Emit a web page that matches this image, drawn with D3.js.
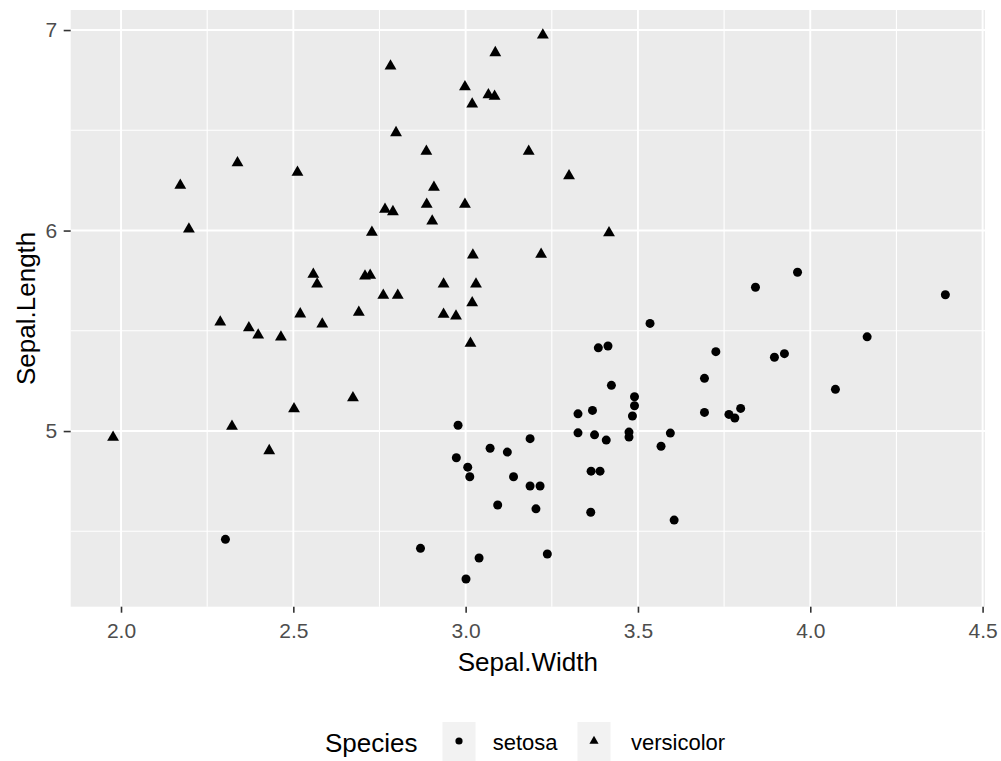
<!DOCTYPE html>
<html>
<head>
<meta charset="utf-8">
<script src="https://cdn.jsdelivr.net/npm/d3@7"></script>
<style>
  body { margin: 0; background: #ffffff; }
  svg { display: block; font-family: "Liberation Sans", Arial, sans-serif; }
</style>
</head>
<body>
<div id="chart"></div>
<script>
// Sepal measurements (slightly jittered) for the two species
const setosaWidth = [3.385, 3.413, 3.423, 3.490, 3.490, 3.484, 3.326, 3.368, 2.978, 3.326,
  3.374, 3.408, 3.474, 3.474, 3.187, 3.071, 3.121, 2.973, 3.006, 3.012,
  3.139, 3.187, 3.216, 3.364, 3.390, 3.093, 3.204, 3.363, 2.869, 3.039,
  3.237, 3.001, 2.303, 3.535, 3.841, 3.963, 4.392, 4.165, 3.726, 3.896,
  3.925, 3.693, 4.073, 3.693, 3.764, 3.781, 3.798, 3.594, 3.567, 3.605];
const setosaLength = [5.415, 5.424, 5.228, 5.171, 5.126, 5.075, 5.086, 5.103, 5.029, 4.991,
  4.981, 4.955, 4.995, 4.970, 4.962, 4.914, 4.895, 4.867, 4.820, 4.772,
  4.772, 4.726, 4.726, 4.800, 4.800, 4.631, 4.612, 4.595, 4.415, 4.367,
  4.387, 4.262, 4.460, 5.537, 5.717, 5.792, 5.680, 5.470, 5.396, 5.368,
  5.386, 5.263, 5.208, 5.093, 5.083, 5.065, 5.113, 4.990, 4.924, 4.556];

const versicolorWidth = [3.224, 3.086, 2.782, 2.998, 3.066, 3.084, 3.019, 2.798, 2.338, 2.172,
  2.512, 2.197, 2.766, 2.789, 2.728, 2.886, 3.183, 3.300, 2.908, 2.887,
  2.998, 2.903, 3.416, 3.021, 3.219, 2.936, 3.030, 3.019, 2.936, 2.972,
  3.014, 2.558, 2.569, 2.708, 2.723, 2.761, 2.803, 2.520, 2.690, 2.584,
  2.288, 2.371, 2.398, 2.464, 2.673, 2.502, 2.322, 1.977, 2.430];
const versicolorLength = [6.975, 6.887, 6.820, 6.717, 6.677, 6.669, 6.631, 6.488, 6.338, 6.225,
  6.290, 6.007, 6.106, 6.094, 5.991, 6.395, 6.395, 6.273, 6.215, 6.131,
  6.131, 6.047, 5.989, 5.878, 5.881, 5.733, 5.733, 5.640, 5.582, 5.574,
  5.437, 5.782, 5.733, 5.773, 5.777, 5.677, 5.677, 5.584, 5.592, 5.534,
  5.544, 5.515, 5.479, 5.469, 5.166, 5.111, 5.023, 4.969, 4.902];

const speciesNames = ["setosa", "versicolor"];
const xTicks = [2.0, 2.5, 3.0, 3.5, 4.0, 4.5];
const xMinorTicks = [2.25, 2.75, 3.25, 3.75, 4.25];
const yTicks = [5, 6, 7];
const yMinorTicks = [4.5, 5.5, 6.5];
const xLimits = [1.854, 4.507];
const yLimits = [4.124, 7.1];

const W = 1001, H = 761;
const panel = { left: 70.7, right: 985, top: 10, bottom: 606.7 };

const svg = d3.select("#chart")
  .append("svg")
  .attr("width", W)
  .attr("height", H);

const x = d3.scaleLinear().domain(xLimits).range([panel.left, panel.right]);
const y = d3.scaleLinear().domain(yLimits).range([panel.bottom, panel.top]);

// panel background
svg.append("rect")
  .attr("x", panel.left)
  .attr("y", panel.top)
  .attr("width", panel.right - panel.left)
  .attr("height", panel.bottom - panel.top)
  .attr("fill", "#ebebeb");

// grid lines, minor first then major
const grid = svg.append("g");
grid.selectAll(".vminor").data(xMinorTicks).enter().append("line")
  .attr("x1", d => x(d)).attr("x2", d => x(d))
  .attr("y1", panel.top).attr("y2", panel.bottom)
  .attr("stroke", "#ffffff").attr("stroke-width", 1.1);
grid.selectAll(".hminor").data(yMinorTicks).enter().append("line")
  .attr("x1", panel.left).attr("x2", panel.right)
  .attr("y1", d => y(d)).attr("y2", d => y(d))
  .attr("stroke", "#ffffff").attr("stroke-width", 1.1);
grid.selectAll(".vmajor").data(xTicks).enter().append("line")
  .attr("x1", d => x(d)).attr("x2", d => x(d))
  .attr("y1", panel.top).attr("y2", panel.bottom)
  .attr("stroke", "#ffffff").attr("stroke-width", 1.9);
grid.selectAll(".hmajor").data(yTicks).enter().append("line")
  .attr("x1", panel.left).attr("x2", panel.right)
  .attr("y1", d => y(d)).attr("y2", d => y(d))
  .attr("stroke", "#ffffff").attr("stroke-width", 1.9);

// filled triangle centred on its centroid (same proportions as R's pch 17)
function trianglePath(cx, cy, R) {
  const r = 1.555 * R, xc = 1.347 * R, yc = 0.778 * R;
  const p = d3.path();
  p.moveTo(cx, cy - r);
  p.lineTo(cx + xc, cy + yc);
  p.lineTo(cx - xc, cy + yc);
  p.closePath();
  return p.toString();
}

const setosa = setosaWidth.map((w, i) => ({ w: w, l: setosaLength[i] }));
const versicolor = versicolorWidth.map((w, i) => ({ w: w, l: versicolorLength[i] }));

// points
svg.append("g").selectAll("circle")
  .data(setosa)
  .enter()
  .append("circle")
  .attr("cx", d => x(d.w))
  .attr("cy", d => y(d.l))
  .attr("r", 4.5)
  .attr("fill", "#000000");

svg.append("g").selectAll("path")
  .data(versicolor)
  .enter()
  .append("path")
  .attr("d", d => trianglePath(x(d.w), y(d.l), 4.4))
  .attr("fill", "#000000");

// axes
const xAxis = svg.append("g")
  .attr("transform", `translate(0,${panel.bottom})`)
  .call(d3.axisBottom(x).tickValues(xTicks).tickFormat(d3.format(".1f")).tickSize(6).tickPadding(10));
const yAxis = svg.append("g")
  .attr("transform", `translate(${panel.left},0)`)
  .call(d3.axisLeft(y).tickValues(yTicks).tickFormat(d3.format("d")).tickSize(7).tickPadding(6.5));

[xAxis, yAxis].forEach(ax => {
  ax.select(".domain").remove();
  ax.selectAll(".tick line").attr("stroke", "#333333").attr("stroke-width", 1.6);
  ax.selectAll(".tick text")
    .attr("fill", "#4d4d4d")
    .attr("font-size", "21px")
    .attr("font-family", "Liberation Sans, Arial, sans-serif");
});

// axis titles
svg.append("text")
  .attr("x", (panel.left + panel.right) / 2)
  .attr("y", 671)
  .attr("text-anchor", "middle")
  .attr("font-size", "26px")
  .attr("fill", "#000000")
  .text("Sepal.Width");

svg.append("text")
  .attr("transform", `translate(35,${(panel.top + panel.bottom) / 2}) rotate(-90)`)
  .attr("text-anchor", "middle")
  .attr("font-size", "26px")
  .attr("fill", "#000000")
  .text("Sepal.Length");

// legend at the bottom
const legend = svg.append("g");
legend.append("text")
  .attr("x", 325)
  .attr("y", 751.5)
  .attr("font-size", "26px")
  .attr("fill", "#000000")
  .text("Species");

const keyX = [459, 594];
const labelX = [492.7, 631];
speciesNames.forEach((name, i) => {
  legend.append("rect")
    .attr("x", keyX[i] - 16.5)
    .attr("y", 722)
    .attr("width", 33)
    .attr("height", 40)
    .attr("fill", "#f2f2f2");
  if (i === 0) {
    legend.append("circle")
      .attr("cx", keyX[i]).attr("cy", 741)
      .attr("r", 3.6).attr("fill", "#000000");
  } else {
    legend.append("path")
      .attr("d", trianglePath(keyX[i], 741, 3.4))
      .attr("fill", "#000000");
  }
  legend.append("text")
    .attr("x", labelX[i])
    .attr("y", 749.5)
    .attr("font-size", "22px")
    .attr("fill", "#000000")
    .text(name);
});
</script>
</body>
</html>
